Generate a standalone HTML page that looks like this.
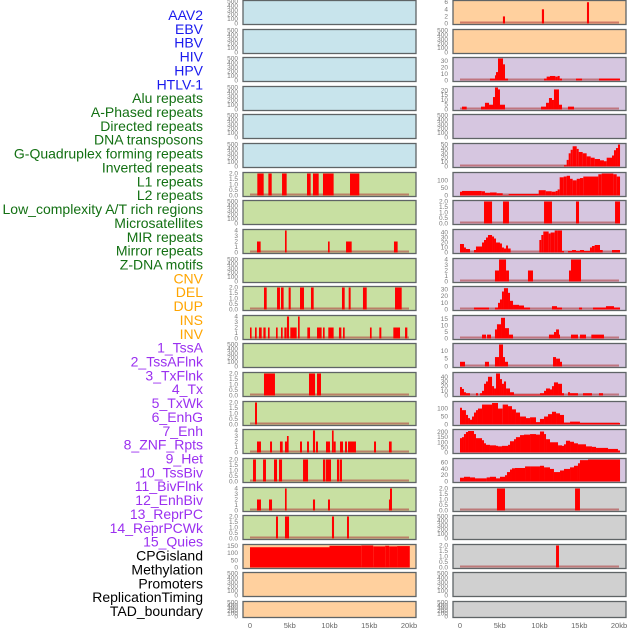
<!DOCTYPE html>
<html><head><meta charset="utf-8">
<style>
html,body{margin:0;padding:0;background:#fff;}
#chart{position:absolute;left:0;top:0;width:630px;height:630px;}
text{font-family:"Liberation Sans",sans-serif;}
</style></head>
<body>
<svg id="chart" width="630" height="630" xmlns="http://www.w3.org/2000/svg"></svg>
<script>
// ---------- data ----------
const trackNames = ["AAV2","EBV","HBV","HIV","HPV","HTLV-1","Alu repeats","A-Phased repeats","Directed repeats","DNA transposons","G-Quadruplex forming repeats","Inverted repeats","L1 repeats","L2 repeats","Low_complexity A/T rich regions","Microsatellites","MIR repeats","Mirror repeats","Z-DNA motifs","CNV","DEL","DUP","INS","INV","1_TssA","2_TssAFlnk","3_TxFlnk","4_Tx","5_TxWk","6_EnhG","7_Enh","8_ZNF_Rpts","9_Het","10_TssBiv","11_BivFlnk","12_EnhBiv","13_ReprPC","14_ReprPCWk","15_Quies","CPGisland","Methylation","Promoters","ReplicationTiming","TAD_boundary"];
const trackGroups = ["v","v","v","v","v","v","r","r","r","r","r","r","r","r","r","r","r","r","r","s","s","s","s","s","c","c","c","c","c","c","c","c","c","c","c","c","c","c","c","o","o","o","o","o"];
const xTickValues = [0,5,10,15,20];
const xTickLabels = ["0","5kb","10kb","15kb","20kb"];

const L7_segs = [[0.92,1.72,2],[2.31,2.73,2],[4.03,4.61,2],[7.17,7.63,2],[7.92,8.64,2],[9.18,10.52,2],[12.58,13.75,2]];
const L9_segs = [[0.88,1.34,2],[4.4,4.61,4],[9.81,10.02,2],[12.08,12.79,2],[18.11,18.57,2]];
const L11_segs = [[1.76,2.1,2],[3.4,3.77,2],[3.9,4.23,2],[4.86,5.12,2],[6.29,6.79,2],[7.67,8.01,2],[11.57,11.91,2],[12.41,12.66,2],[14.21,14.68,2],[18.24,19.08,2]];
const L12_segs = [[0,0.2,2],[0.63,0.84,2],[1.13,1.47,2],[1.68,1.97,2],[2.26,2.47,2],[3.27,3.48,2],[3.9,4.11,2],[4.32,4.61,2],[4.65,4.91,4],[5.07,5.87,2],[6.04,6.25,4],[7.21,7.55,2],[8.43,9.01,2],[9.18,9.39,2],[9.85,10.52,2],[11.19,11.49,2],[11.7,11.91,2],[15.09,15.3,2],[16.27,16.52,2],[18.03,18.87,2],[19.5,19.79,2]];
const L14_segs = [[1.76,3.14,2],[7.42,8.18,2],[8.43,8.93,2]];
const L15_segs = [[0.63,0.88,2]];
const L16_segs = [[0.88,1.38,2],[2.52,2.77,2],[3.77,4.11,2],[4.4,4.65,2],[4.65,4.86,3],[6.29,6.54,2],[7.17,7.42,2],[7.92,8.18,4],[8.3,8.55,2],[9.56,10.06,2],[10.31,10.52,4],[10.52,10.78,2],[11.32,11.7,2],[11.95,12.2,2],[12.33,13.33,2],[15.6,15.85,2],[17.48,17.82,2]];
const L17_segs = [[0.38,0.75,2],[1.64,2.01,2],[3.02,3.4,2],[3.65,4.03,2],[6.67,7.3,2],[9.18,9.48,2],[9.56,10.19,2],[10.94,11.24,2],[11.32,11.57,2]];
const L18_segs = [[0.88,1.38,2],[2.39,2.77,2],[4.4,4.61,4],[7.92,8.18,2],[9.81,10.06,2],[17.48,17.69,2],[17.61,17.86,4]];
const L19_segs = [[3.27,3.52,2],[4.4,4.91,2],[10.31,10.57,2],[12.2,12.45,2]];
const L20_segs = [[0,10,140],[10,14,150],[14,15.5,152],[15.5,17,146],[17,17.5,150],[17.5,18.5,146],[18.5,20.1,148]];

const R1_segs = [[5.4,5.66,2],[10.3,10.57,4],[15.97,16.23,6]];
const R3_segs = [[3.77,4.4,3],[4.4,4.53,8],[4.53,4.78,13],[4.78,5.41,35],[5.41,5.66,25],[5.66,6.04,3],[10.57,10.9,3],[10.9,11.32,6],[11.32,11.99,7],[11.99,12.28,6],[12.28,12.54,7],[12.54,12.83,3],[14.59,15.35,3],[17.48,20.13,3]];
const R4_segs = [[0.25,0.84,3],[2.64,3.14,3],[3.14,3.65,7],[3.65,4.15,5],[4.15,4.4,13],[4.4,4.78,23],[4.78,5.03,21],[5.03,5.66,5],[10.19,10.82,3],[10.82,11.19,7],[11.19,11.57,12],[11.57,11.82,10],[11.82,12.45,21],[12.45,12.83,5],[13.58,14.34,3]];
const R6_edges = [13.08,13.42,13.67,13.92,14.17,14.68,14.93,15.43,15.93,16.44,16.94,17.61,18.11,18.45,19.12,19.37,19.62,19.87,20.13];
const R6_vals = [3,15,30,38,46,40,33,30,23,20,17,14,12,20,25,37,42,50];
const R7_edges = [0,0.25,2.73,3.14,3.77,4.61,5.37,6.12,9.9,10.78,11.53,12.03,12.28,12.54,13.04,13.42,13.84,14.17,14.68,15.09,15.51,17.4,17.82,19.29,19.71,20.13];
const R7_vals = [25,30,28,18,20,15,3,10,35,28,25,30,40,120,125,130,110,100,110,115,125,140,145,140,125];
const R8_segs = [[3.02,4.03,2],[5.41,6.16,2],[10.57,11.57,2],[14.59,14.97,2],[19.5,20.13,2]];
const R9_segs = [[0,0.5,17],[0.5,0.75,10],[0.75,1.26,7],[1.76,2.01,5],[2.01,2.77,12],[2.77,3.02,20],[3.02,3.27,25],[3.27,3.52,30],[3.52,4.03,35],[4.03,4.28,32],[4.28,4.53,28],[4.53,5.03,20],[5.03,5.28,18],[5.28,5.53,10],[5.53,5.79,8],[5.79,6.04,14],[6.04,6.37,8],[9.98,10.23,25],[10.23,10.48,35],[10.48,11.15,42],[11.15,11.4,38],[11.4,11.91,40],[11.91,12.24,44],[12.24,12.83,46],[12.83,13.08,3],[13.58,14.09,3],[14.09,14.59,5],[14.59,15.09,3],[15.09,15.6,5],[15.6,16.35,3],[16.35,16.6,10],[16.6,16.94,13],[16.94,17.61,15],[17.61,17.95,5],[19.12,20.13,5]];
const R10_segs = [[4.4,4.91,2],[4.91,5.79,4],[5.79,6.16,2],[8.55,9.18,2],[13.71,13.96,2],[13.96,15.22,4]];
const R11_segs = [[1.76,3.65,3],[4.4,4.78,3],[4.78,5.03,10],[5.03,5.28,15],[5.28,5.53,27],[5.53,6.04,32],[6.04,6.29,25],[6.29,6.67,13],[6.67,7.42,7],[7.42,8.05,6],[8.05,8.81,3],[11.57,12.2,5],[12.2,12.83,3],[14.97,15.35,3],[16.73,18.36,3],[18.36,19.37,5],[19.37,20.13,3]];
const R12_segs = [[2.77,3.27,3],[3.4,3.9,3],[4.4,4.65,7],[4.65,5.16,11],[5.16,5.66,16],[5.66,6.16,8],[6.16,6.67,3],[11.19,11.82,3],[11.82,12.08,5],[12.08,12.45,7],[12.45,12.58,3],[13.96,14.84,3],[15.09,15.85,3],[16.52,18.11,3]];
const R13_segs = [[0,0.63,3],[3.14,3.65,3],[4.4,4.91,6],[4.91,5.41,14],[5.41,5.66,6],[5.66,6.04,3],[11.7,12.08,6],[12.08,12.58,5],[12.58,12.83,3]];
const R14_segs = [[0,0.25,18],[0.25,0.5,14],[0.5,0.75,7],[0.75,1.26,5],[2.01,2.26,5],[2.52,2.77,5],[2.77,3.02,10],[3.02,3.27,25],[3.27,3.52,30],[3.52,4.03,40],[4.03,4.28,20],[4.28,4.53,15],[4.53,5.03,47],[5.03,5.28,35],[5.28,5.53,25],[5.53,5.79,30],[5.79,6.29,15],[6.29,6.79,7],[6.79,10.06,2],[10.06,10.57,5],[10.57,10.82,10],[10.82,11.32,15],[11.32,11.57,13],[11.57,11.82,20],[11.82,12.33,28],[12.33,12.83,25],[12.83,13.08,5],[13.58,13.84,7],[13.84,14.84,5],[15.47,16.6,5],[17.48,17.99,5]];
const R15_segs = [[0,0.25,105],[0.25,0.75,90],[0.75,1.01,60],[1.01,1.26,40],[1.26,1.51,30],[1.51,1.76,50],[1.76,2.01,75],[2.01,2.26,90],[2.26,2.77,100],[2.77,4.03,125],[4.03,4.78,135],[4.78,5.37,100],[5.37,6.04,125],[6.04,6.54,115],[6.54,7.04,95],[7.04,7.55,75],[7.55,8.3,50],[8.3,8.81,40],[8.81,9.56,45],[9.56,10.06,15],[10.06,10.57,35],[10.57,11.07,50],[11.07,11.57,65],[11.57,12.08,80],[12.08,12.58,70],[12.58,13.08,60],[13.08,13.84,12],[13.84,15.09,18],[15.09,20.13,10]];
const R16_edges = [0,0.25,0.5,0.75,1.01,1.76,2.01,2.77,3.02,3.27,3.77,4.53,4.78,5.28,6.04,6.29,6.79,7.04,7.55,8.05,8.81,9.56,10.06,10.57,10.82,11.32,12.33,12.83,13.08,13.33,13.84,14.34,14.84,15.85,16.6,17.11,18.62,19.87,20.13];
const R16_vals = [140,150,180,200,210,180,140,120,90,75,70,65,60,65,75,110,130,150,170,175,180,175,205,180,130,100,70,65,80,115,105,90,80,60,55,45,35,20];
const R17_edges = [0,0.5,1.26,1.89,3.35,3.77,4.53,5.03,5.66,5.91,6.29,6.54,6.92,8.18,8.81,10.06,10.57,11.32,11.82,12.58,13.08,13.84,14.34,14.84,15.09,16.1,20.13];
const R17_vals = [12,15,13,10,13,15,10,15,20,30,38,42,43,48,48,50,45,40,30,35,40,45,50,58,68,70];
const R18_segs = [[4.65,5.66,2],[14.47,15.09,2]];
const R20_segs = [[12.08,12.45,2]];

const emptyTicks = [0,100,200,300,400,500];
const t2 = [0,0.5,1,1.5,2], t2Labels = ["0.0","0.5","1.0","1.5","2.0"];
const t4 = [0,1,2,3,4];

// ---------- layout ----------
const BG = {blue:"#c8e4ec", green:"#c8e0a2", orange:"#ffd09e", purple:"#d6c6e0", gray:"#d0d0d0"};
const GROUPCOL = {v:"#1a1aee", r:"#137013", s:"#ffa500", c:"#9b30f0", o:"#000000"};
function edgesToSegs(e,v){const s=[];for(let i=0;i<v.length;i++)s.push([e[i],e[i+1],v[i]]);return s;}

const left = [
 {bg:"blue"},{bg:"blue"},{bg:"blue"},{bg:"blue"},{bg:"blue"},{bg:"blue"},
 {bg:"green",segs:L7_segs,ymax:2,ticks:t2,labels:t2Labels},
 {bg:"green"},
 {bg:"green",segs:L9_segs,ymax:4,ticks:t4},
 {bg:"green"},
 {bg:"green",segs:L11_segs,ymax:2,ticks:t2,labels:t2Labels},
 {bg:"green",segs:L12_segs,ymax:4,ticks:t4},
 {bg:"green"},
 {bg:"green",segs:L14_segs,ymax:2,ticks:t2,labels:t2Labels},
 {bg:"green",segs:L15_segs,ymax:2,ticks:t2,labels:t2Labels},
 {bg:"green",segs:L16_segs,ymax:4,ticks:t4},
 {bg:"green",segs:L17_segs,ymax:2,ticks:t2,labels:t2Labels},
 {bg:"green",segs:L18_segs,ymax:4,ticks:t4},
 {bg:"green",segs:L19_segs,ymax:2,ticks:t2,labels:t2Labels},
 {bg:"orange",segs:L20_segs,ymax:152,ticks:[0,50,100,150]},
 {bg:"orange"},{bg:"orange"}
];
const right = [
 {bg:"orange",segs:R1_segs,ymax:6.2,ticks:[0,2,4,6]},
 {bg:"orange"},
 {bg:"purple",segs:R3_segs,ymax:34,ticks:[0,10,20,30]},
 {bg:"purple",segs:R4_segs,ymax:23,ticks:[0,5,10,15,20]},
 {bg:"purple"},
 {bg:"purple",segs:edgesToSegs(R6_edges,R6_vals),ymax:50,ticks:[0,10,20,30,40,50]},
 {bg:"purple",segs:edgesToSegs(R7_edges,R7_vals),ymax:145,ticks:[0,50,100]},
 {bg:"purple",segs:R8_segs,ymax:2,ticks:t2,labels:t2Labels},
 {bg:"purple",segs:R9_segs,ymax:44,ticks:[0,10,20,30,40]},
 {bg:"purple",segs:R10_segs,ymax:4,ticks:t4},
 {bg:"purple",segs:R11_segs,ymax:33,ticks:[0,10,20,30]},
 {bg:"purple",segs:R12_segs,ymax:17,ticks:[0,5,10,15]},
 {bg:"purple",segs:R13_segs,ymax:14,ticks:[0,5,10]},
 {bg:"purple",segs:R14_segs,ymax:47,ticks:[0,10,20,30,40]},
 {bg:"purple",segs:R15_segs,ymax:138,ticks:[0,50,100]},
 {bg:"purple",segs:edgesToSegs(R16_edges,R16_vals),ymax:215,ticks:[0,50,100,150,200]},
 {bg:"purple",segs:edgesToSegs(R17_edges,R17_vals),ymax:70,ticks:[0,20,40,60]},
 {bg:"gray",segs:R18_segs,ymax:2,ticks:t2,labels:t2Labels},
 {bg:"gray"},
 {bg:"gray",segs:R20_segs,ymax:2,ticks:t2,labels:t2Labels},
 {bg:"gray"},{bg:"gray"}
];

const NS="http://www.w3.org/2000/svg";
const svg=document.getElementById("chart");
function el(tag,attrs,parent){const e=document.createElementNS(NS,tag);for(const k in attrs)e.setAttribute(k,attrs[k]);(parent||svg).appendChild(e);return e;}

// track labels
trackNames.forEach((n,i)=>{
  const t=el("text",{x:203,y:15+i*13.86+5,"text-anchor":"end","font-size":"14",fill:GROUPCOL[trackGroups[i]]});
  t.textContent=n;
  
  
});

function drawCol(list,colX,zeroX,colName){
  const pxPerKb=(409-250)/20;
  const xs=kb=>zeroX+kb*pxPerKb;
  list.forEach((p,i)=>{
    const top=Math.round(i*28.62);
    const h=(i===21)?16:24;
    const g=el("g",{});
    
    
    el("rect",{x:colX,y:top+0.5,width:173,height:h,fill:BG[p.bg],stroke:"#5f6466","stroke-width":"1.3"},g);
    const bot=top+h-0.5, ytop=top+1.5;
    const ymax=p.ymax||500;
    const ys=v=>bot-(Math.min(v,ymax)/ymax)*(bot-ytop);
    const ticks=p.ticks||emptyTicks;
    ticks.forEach((tv,k)=>{
      const t=el("text",{x:colX-5,y:ys(tv)+2,"text-anchor":"end","font-size":"6.5",fill:"#7a7a7a"},g);
      t.textContent=p.labels?p.labels[k]:String(tv);
      
      
    });
    if(p.segs){
      el("rect",{x:xs(0),y:bot-2,width:xs(20)-xs(0),height:2,fill:"#b04040","fill-opacity":"0.6"},g);
      p.segs.forEach(s=>{
        const r=el("rect",{x:xs(s[0]),y:ys(s[2]),width:Math.max(0.8,xs(s[1])-xs(s[0])),height:bot-ys(s[2]),fill:"#ff0000"},g);
        
        
      });
    }
  });
  xTickValues.forEach((v,k)=>{
    const t=el("text",{x:zeroX+v*pxPerKb,y:628,"text-anchor":"middle","font-size":"7.5",fill:"#666"});
    t.textContent=xTickLabels[k];
    
    
  });
}
drawCol(left,243,250,"left");
drawCol(right,453,460,"right");
</script>
</body></html>
